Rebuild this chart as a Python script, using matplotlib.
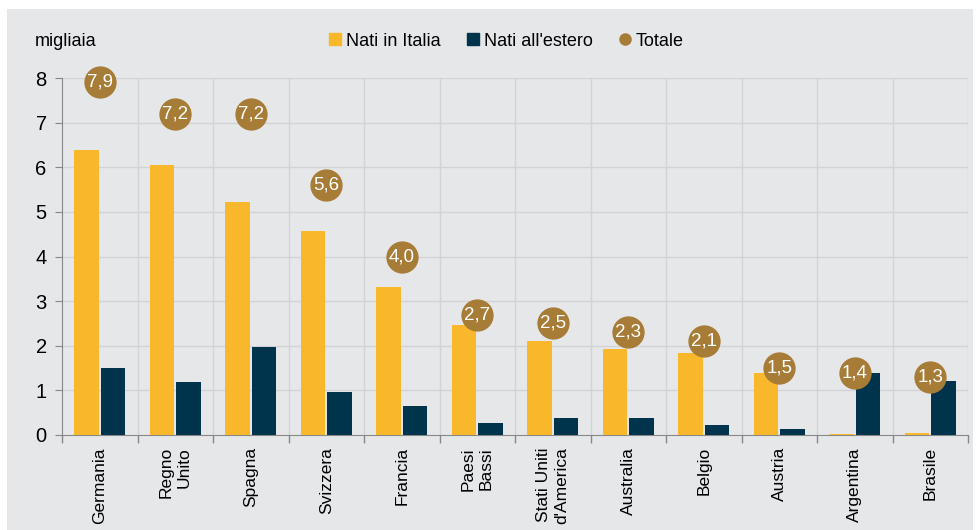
import matplotlib
matplotlib.use('Agg')
import matplotlib.pyplot as plt
from matplotlib.patches import Rectangle
from matplotlib.lines import Line2D
import numpy as np

paesi = ['Germania', 'Regno\nUnito', 'Spagna', 'Svizzera', 'Francia', 'Paesi\nBassi',
         "Stati Uniti\nd'America", 'Australia', 'Belgio', 'Austria', 'Argentina', 'Brasile']
nati_italia = [6.38, 6.04, 5.22, 4.57, 3.32, 2.46, 2.10, 1.92, 1.83, 1.38, 0.02, 0.04]
nati_estero = [1.51, 1.18, 1.98, 0.97, 0.65, 0.28, 0.37, 0.39, 0.23, 0.14, 1.38, 1.22]
totale = [7.9, 7.2, 7.2, 5.6, 4.0, 2.7, 2.5, 2.3, 2.1, 1.5, 1.4, 1.3]

giallo = '#F9B82B'
blu = '#00334C'
oro = '#A67C37'
sfondo = '#E6E7E9'
griglia = '#D2D3D6'
plt.rcParams['font.family'] = ['Liberation Sans', 'DejaVu Sans']

fig = plt.figure(figsize=(9.8, 5.3), dpi=100)
fig.patch.set_facecolor('white')
fig.patches.append(Rectangle((7 / 980, 0), 966 / 980, 1 - 9 / 530, transform=fig.transFigure,
                             facecolor=sfondo, edgecolor='none', zorder=-10))

ax = fig.add_axes([62 / 980, 1 - 435 / 530, 906 / 980, 357 / 530])
ax.set_facecolor(sfondo)

x = np.arange(len(paesi))
w = 0.32
ax.bar(x - 0.176, nati_italia, w, color=giallo, zorder=3)
ax.bar(x + 0.176, nati_estero, w, color=blu, zorder=3)
ax.scatter(x, totale, s=540, color=oro, zorder=4, linewidths=0, clip_on=False)
for xi, t in zip(x, totale):
    ax.text(xi, t, f'{t:.1f}'.replace('.', ','), ha='center', va='center',
            color='white', fontsize=13.5, zorder=5, clip_on=False)

ax.set_xlim(-0.5, len(paesi) - 0.5)
ax.set_ylim(0, 8)
ax.set_yticks(range(0, 9))
ax.set_xticks(np.arange(-0.5, len(paesi), 1.0))
ax.set_xticklabels([])
ax.tick_params(axis='y', labelsize=14.5, colors='#888888', labelcolor='black', length=5, pad=6)
ax.tick_params(axis='x', colors='#888888', length=6, width=1)

for y in range(1, 9):
    ax.axhline(y, color=griglia, lw=1, zorder=1)
for b in np.arange(0.5, len(paesi) + 0.5, 1.0):
    ax.axvline(b, color=griglia, lw=1, zorder=1)

for s in ['top', 'right']:
    ax.spines[s].set_visible(False)
ax.spines['left'].set_color('#888888')
ax.spines['bottom'].set_color('#888888')

for xi, p in zip(x, paesi):
    ax.text(xi, -0.27, p, rotation=90, ha='center', va='top', multialignment='right',
            fontsize=12.5, linespacing=1.25, clip_on=False)

fig.text(35 / 980, 1 - 41 / 530, 'migliaia', fontsize=13, va='center', ha='left')

handles = [
    Line2D([], [], marker='s', ls='none', color=giallo, markersize=8),
    Line2D([], [], marker='s', ls='none', color=blu, markersize=8),
    Line2D([], [], marker='o', ls='none', color=oro, markersize=8),
]
fig.legend(handles, ['Nati in Italia', "Nati all'estero", 'Totale'], loc='center',
           bbox_to_anchor=(506 / 980, 1 - 41 / 530), ncol=3, frameon=False, fontsize=13,
           handletextpad=0.2, columnspacing=1.4, handlelength=0.8)

fig.savefig('out.png', dpi=100, facecolor=fig.get_facecolor())
